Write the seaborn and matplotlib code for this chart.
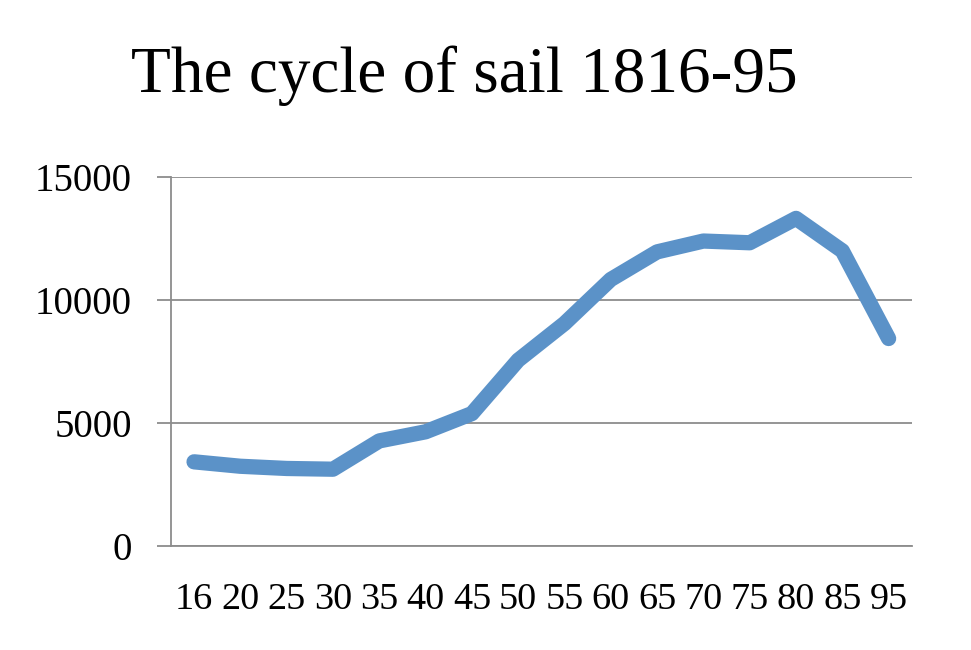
import numpy as np
import pandas as pd
import matplotlib
matplotlib.use("Agg")
import matplotlib.pyplot as plt
import seaborn as sns

# tonnage-ish values
years = ["16", "20", "25", "30", "35", "40", "45", "50",
         "55", "60", "65", "70", "75", "80", "85", "95"]
sail = [3420, 3240, 3150, 3120, 4270, 4640, 5380, 7550,
        9040, 10830, 11950, 12390, 12320, 13310, 11990, 8430]
y_ticks = [0, 5000, 10000, 15000]

LINE_BLUE = "#5B92C8"
GRID_GREY = "#8c8c8c"

sns.set_style("white")
plt.rcParams["font.family"] = ["Liberation Serif", "DejaVu Serif"]
plt.rcParams["text.color"] = "black"
plt.rcParams["xtick.labelcolor"] = "black"
plt.rcParams["ytick.labelcolor"] = "black"

df = pd.DataFrame({"pos": np.arange(len(years)), "year": years, "sail": sail})

fig = plt.figure(figsize=(9.71, 6.5), dpi=100)
ax = fig.add_axes([0.176, 0.160, 0.763, 0.568])

sns.lineplot(data=df, x="pos", y="sail", ax=ax, color=LINE_BLUE,
             linewidth=11, solid_joinstyle="round", solid_capstyle="round")

ax.set_xlim(-0.5, len(years) - 0.5)
ax.set_ylim(0, 15000)
ax.set_yticks(y_ticks)
ax.set_yticklabels([str(v) for v in y_ticks])
ax.yaxis.grid(True, color=GRID_GREY, linewidth=1.3)
ax.set_axisbelow(True)

# labels centred on categories, tick marks on the boundaries
ax.set_xticks(df["pos"])
ax.set_xticklabels(years)
ax.set_xticks(np.arange(len(years) + 1) - 0.5, minor=True)
ax.tick_params(axis="x", which="major", length=0, pad=26, labelsize=27.5)
ax.tick_params(axis="x", which="minor", length=8, width=1.3, color=GRID_GREY, direction="out")
ax.tick_params(axis="y", length=10, width=1.3, color=GRID_GREY, pad=18, labelsize=28, left=True)

for side in ["top", "right"]:
    ax.spines[side].set_visible(False)
for side in ["left", "bottom"]:
    ax.spines[side].set_color(GRID_GREY)
    ax.spines[side].set_linewidth(1.3)

ax.set_xlabel("")
ax.set_ylabel("")
fig.suptitle("The cycle of sail 1816-95", x=0.478, y=0.93, fontsize=47)

fig.savefig("out.png", dpi=100)
